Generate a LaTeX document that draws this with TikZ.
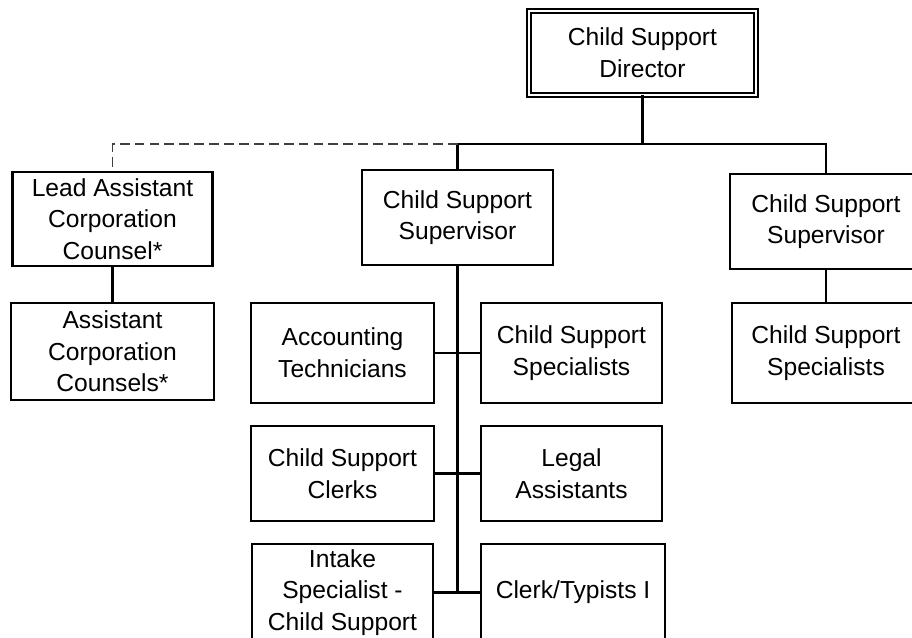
\documentclass[tikz,border=0pt]{standalone}
\usepackage{fontspec}
\setmainfont{Liberation Sans}

\begin{document}
\begin{tikzpicture}[line cap=rect,x=0.025cm,y=-0.025cm,
  box/.style={draw,line width=1.5pt,align=center,inner sep=0pt,
    font=\fontsize{17.5}{22.5}\selectfont},
  headbox/.style={box,double,line width=1.2pt,double distance=1.6pt},
  link/.style={line width=1.5pt},
  dottedlink/.style={line width=1.4pt,black!75,line cap=butt,dash pattern=on 7pt off 3.6pt}]
\clip (0,0) rectangle (912,637);
% top
\node[headbox,minimum width=5.66cm,minimum height=2.1cm] (dir) at (642.5,53) {Child Support\\Director};
% left column
\node[box,minimum width=5cm,minimum height=2.35cm] (lead) at (112.5,219) {Lead Assistant\\Corporation\\Counsel*};
\node[box,minimum width=5.08cm,minimum height=2.42cm] (counsels) at (112.5,351.5) {Assistant\\Corporation\\Counsels*};
% middle column
\node[box,minimum width=4.78cm,minimum height=2.38cm] (sup1) at (457.5,217.5) {Child Support\\Supervisor};
\node[box,minimum width=4.58cm,minimum height=2.5cm] (tech) at (342.5,353) {Accounting\\Technicians};
\node[box,minimum width=4.53cm,minimum height=2.5cm] (spec1) at (571.5,353) {Child Support\\Specialists};
\node[box,minimum width=4.58cm,minimum height=2.38cm] (clerks) at (342.5,473.5) {Child Support\\Clerks};
\node[box,minimum width=4.53cm,minimum height=2.38cm] (legal) at (571.5,473.5) {Legal\\Assistants};
\node[box,minimum width=4.53cm,minimum height=2.42cm] (intake) at (342.5,592.5) {Intake\\Specialist -\\Child Support};
\node[box,minimum width=4.6cm,minimum height=2.42cm] (typist) at (573,592.5) {Clerk/Typists I};
% right column
\node[box,minimum width=4.8cm,minimum height=2.38cm] (sup2) at (826,221.5) {Child Support\\Supervisor};
\node[box,minimum width=4.7cm,minimum height=2.5cm] (spec2) at (826,353) {Child Support\\Specialists};
\coordinate (bus) at (642.5,144);
% lines
\draw[link] (dir.south) -- (bus);
\draw[link] (sup1.north) -- (sup1.north |- bus) -- (sup2.north |- bus) -- (sup2.north);
\draw[dottedlink] (sup1.north |- bus) -- (lead.north |- bus) -- (lead.north);
\draw[link] (lead.south) -- (counsels.north);
\draw[link] (sup2.south) -- (spec2.north);
\draw[link] (sup1.south) -- (sup1.south |- intake.east);
\draw[link] (tech.east) -- (spec1.west);
\draw[link] (clerks.east) -- (legal.west);
\draw[link] (intake.east) -- (typist.west);
\end{tikzpicture}
\end{document}
